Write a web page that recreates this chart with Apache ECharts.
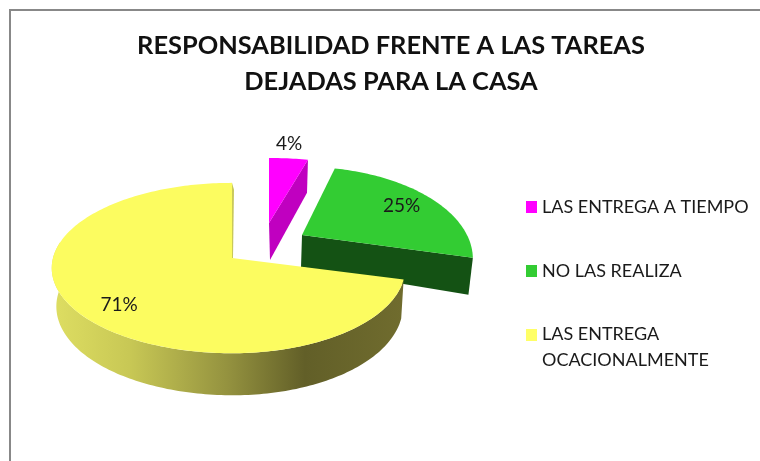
<!DOCTYPE html>
<html><head><meta charset="utf-8">
<style>html,body{margin:0;padding:0;background:#fff}#c{width:760px;height:461px}</style>
<script src="https://cdn.jsdelivr.net/npm/echarts@6/dist/echarts.min.js"></script>
</head><body><div id="c"></div>
<script>
const titleLines = ['RESPONSABILIDAD FRENTE A LAS TAREAS', 'DEJADAS PARA LA CASA'];
const categories = ['LAS ENTREGA A TIEMPO', 'NO LAS REALIZA', 'LAS ENTREGA OCACIONALMENTE'];
const percentages = [4, 25, 71];
const percentLabels = ['4%', '25%', '71%'];

const FONT = 'Lato, "Open Sans", sans-serif';
const total = percentages.reduce((a, b) => a + b, 0);
const starts = percentages.map((_, i) => percentages.slice(0, i).reduce((a, b) => a + b, 0) / total * 2 * Math.PI);
const ends = percentages.map((_, i) => percentages.slice(0, i + 1).reduce((a, b) => a + b, 0) / total * 2 * Math.PI);

// view geometry of each exploded slice under the 3D perspective
const views = [
  {cx: 269, cy: 223, a: 187, aLeft: 187, b: 78, k: .2, shift: 1, s: .95, dApex: 37, dRim: 33, top: '#FF00FF', wall: '#C000C0', labelR: 1.22, dx: -3, dy: -3},
  {cx: 302, cy: 235, a: 165, aLeft: 165, b: 86, k: .26, shift: -1, s: .98, dApex: 32, dRim: 37, top: '#33CC33', wall: '#145214', labelR: .79, dx: -2, dy: 2},
  {cx: 232, cy: 258, a: 172, aLeft: 179, b: 84, k: .118, shift: 1, s: .98, dApex: 38, dRim: 38, top: '#FCFC60', wall: null, labelR: .78, dx: 4, dy: 4}
];

function pt(v, ang, r) {
  const sx = Math.sin(ang) * r, up = Math.cos(ang) * r;
  const w = 1 + v.k * up;
  return [v.cx + (sx < 0 ? v.aLeft : v.a) * sx / w, v.cy - v.b * up / w];
}
function low(v, p, d) { return [v.cx + v.shift + v.s * (p[0] - v.cx), p[1] + d]; }
function arc(v, a0, a1) {
  const out = [], n = Math.max(2, Math.ceil(Math.abs(a1 - a0) / .02));
  for (let i = 0; i <= n; i++) out.push(pt(v, a0 + (a1 - a0) * i / n, 1));
  return out;
}
const poly = (points, fill, z) => ({type: 'polygon', shape: {points}, style: {fill}, z2: z, silent: true});

function renderSlice(i) {
  return function () {
    const v = views[i], a0 = starts[i], a1 = ends[i], kids = [];
    const apex = [v.cx, v.cy];
    if (v.wall) {
      const rim = pt(v, a1, 1);
      kids.push(poly([apex, rim, low(v, rim, v.dRim), low(v, apex, v.dApex)], v.wall, 1));
    } else {
      const from = a0, to = Math.min(a1, 2 * Math.PI * .78);
      const outer = arc(v, from, to);
      const bottom = outer.map((p, j) => {
        const ang = from + (to - from) * j / (outer.length - 1);
        return low(v, p, v.dRim + 4 * Math.max(-1, -Math.cos(ang)));
      }).reverse();
      const grad = new echarts.graphic.LinearGradient(52, 0, 403, 0, [
        {offset: 0, color: '#DEDE62'}, {offset: .22, color: '#C8C855'},
        {offset: .5, color: '#94923F'}, {offset: .72, color: '#625F28'},
        {offset: 1, color: '#706C2E'}
      ], true);
      kids.push(poly(outer.concat(bottom), grad, 1));
      const rim = pt(v, a1, 1);
      kids.push(poly([apex, rim, [rim[0] + 2, rim[1] + 7], [apex[0] + 1, apex[1]]], '#C9C95A', 1));
    }
    kids.push(poly([apex].concat(arc(v, a0, a1)), v.top, 2));
    const m = pt(v, (a0 + a1) / 2, v.labelR);
    kids.push({type: 'text', z2: 3, silent: true, style: {
      x: m[0] + v.dx, y: m[1] + v.dy, text: percentLabels[i], fill: '#1a1a1a',
      font: '19px ' + FONT, align: 'center', verticalAlign: 'middle'}});
    return {type: 'group', children: kids};
  };
}

const legendBase = {left: 526, padding: 0, orient: 'vertical', selectedMode: false, itemWidth: 11, itemHeight: 12, itemGap: 0,
  textStyle: {fontFamily: FONT, fontSize: 18, color: '#1a1a1a', lineHeight: 26}};
const titleStyle = {fontFamily: FONT, fontSize: 25.4, fontWeight: 'bold', color: '#111'};

const chart = echarts.init(document.getElementById('c'), null, {renderer: 'canvas'});
chart.setOption({
  animation: false,
  backgroundColor: '#fff',
  title: [
    {text: titleLines[0], padding: 0, left: 391, top: 46, textAlign: 'center', textVerticalAlign: 'middle', textStyle: titleStyle},
    {text: titleLines[1], padding: 0, left: 391, top: 82, textAlign: 'center', textVerticalAlign: 'middle', textStyle: titleStyle}
  ],
  legend: [
    Object.assign({}, legendBase, {top: 194, data: [{name: categories[0], icon: 'rect', itemStyle: {color: views[0].top}}]}),
    Object.assign({}, legendBase, {top: 258, data: [{name: categories[1], icon: 'rect', itemStyle: {color: views[1].top}}]}),
    Object.assign({}, legendBase, {top: 321.5, itemHeight: 37,
      formatter: n => n.replace(' OCACIONALMENTE', '\nOCACIONALMENTE'),
      data: [{name: categories[2], icon: 'path://M0 0H11V12H0Z M0 37H11V37H0Z', itemStyle: {color: '#FFFF66'}}]})
  ],
  graphic: [{type: 'polyline', silent: true, shape: {points: [[10, 480], [10, 10], [780, 10]]},
    style: {stroke: '#888', lineWidth: 2, fill: null}}],
  series: percentages.map((val, i) => ({
    type: 'custom', name: categories[i], coordinateSystem: 'none', silent: true,
    itemStyle: {color: views[i].top},
    data: [val], renderItem: renderSlice(i)
  }))
});
</script></body></html>
